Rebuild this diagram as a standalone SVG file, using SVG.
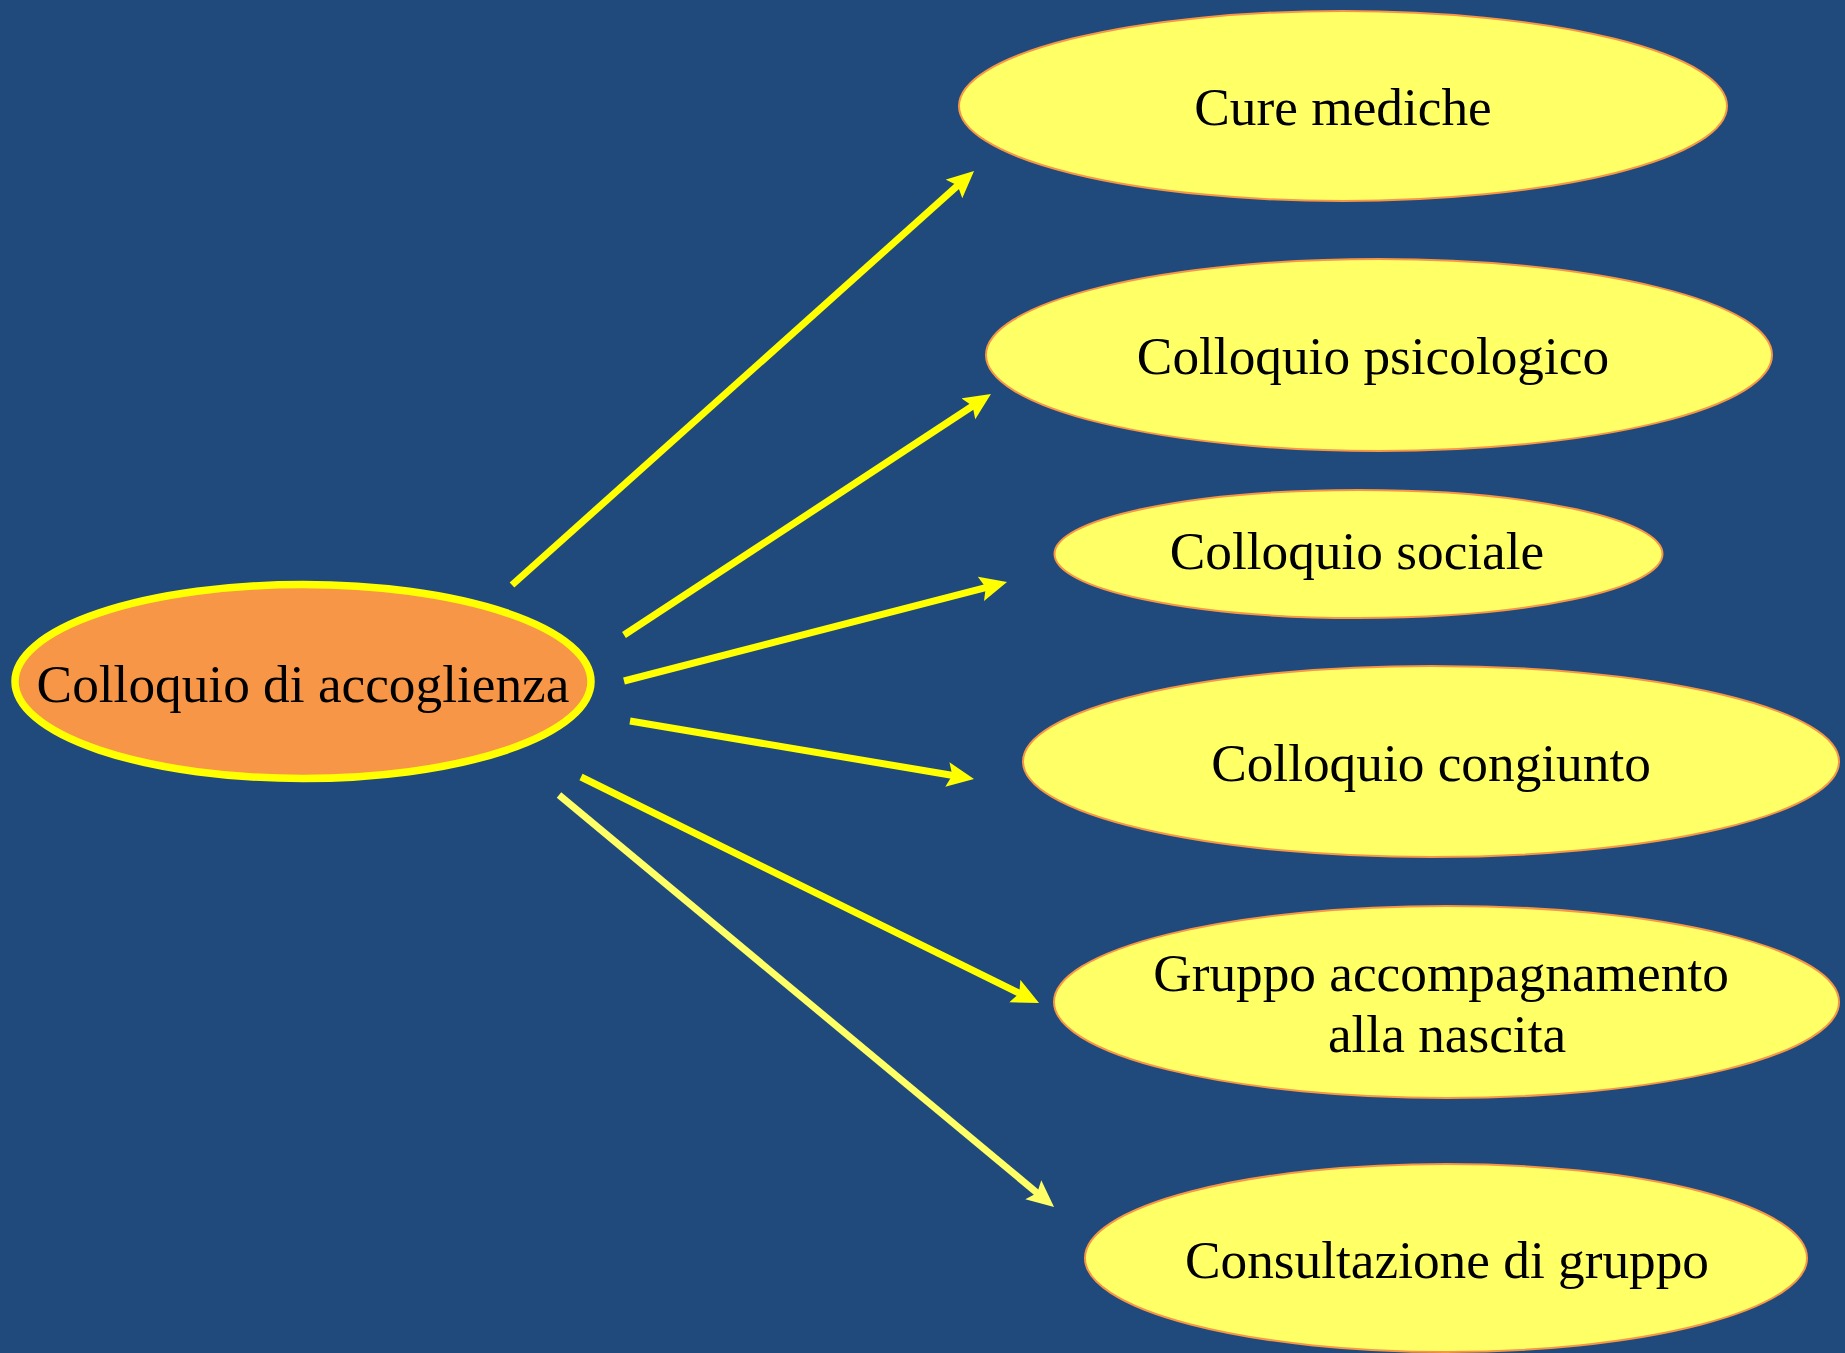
<svg xmlns="http://www.w3.org/2000/svg" width="1845" height="1353" viewBox="0 0 1845 1353">
<style>
.bg{fill:#204A7C}
.node{fill:#FFFF66;stroke:#F79646;stroke-width:2}
.main{fill:#F79646;stroke:#FFFF00;stroke-width:7.5}
.lbl{font-family:"Liberation Serif","Times New Roman",serif;font-size:53.3px;fill:#000;text-anchor:middle}
.c{stroke:#FFFF00;stroke-width:7;fill:none;marker-end:url(#ah)}
.c2{stroke:#FFFF66;stroke-width:7;fill:none;marker-end:url(#ah2)}
</style>
<defs>
<marker id="ah" markerUnits="userSpaceOnUse" markerWidth="32" markerHeight="28" refX="6" refY="12.5" orient="auto"><path d="M0,0 L27,12.5 L0,25 L5,12.5 z" fill="#FFFF00"/></marker>
<marker id="ah2" markerUnits="userSpaceOnUse" markerWidth="32" markerHeight="28" refX="6" refY="12.5" orient="auto"><path d="M0,0 L27,12.5 L0,25 L5,12.5 z" fill="#FFFF66"/></marker>
</defs>
<rect class="bg" x="0" y="0" width="1845" height="1353"/>
<g id="connectors">
<line class="c" x1="512" y1="585" x2="958.4" y2="184.9"/>
<line class="c" x1="624" y1="635" x2="973.4" y2="405.5"/>
<line class="c" x1="624" y1="681" x2="986.7" y2="587.3"/>
<line class="c" x1="630" y1="721" x2="953.3" y2="775.5"/>
<line class="c" x1="581" y1="777" x2="1020.2" y2="993.7"/>
<line class="c2" x1="559" y1="795" x2="1037.9" y2="1193.6"/>
</g>
<g id="accoglienza">
<ellipse class="main" cx="303" cy="681.5" rx="288" ry="97"/>
<text class="lbl" x="303" y="702">Colloquio di accoglienza</text>
</g>
<g id="cure">
<ellipse class="node" cx="1343" cy="106" rx="384" ry="95"/>
<text class="lbl" x="1343" y="125">Cure mediche</text>
</g>
<g id="psicologico">
<ellipse class="node" cx="1379" cy="355" rx="393" ry="96"/>
<text class="lbl" x="1373" y="374">Colloquio psicologico</text>
</g>
<g id="sociale">
<ellipse class="node" cx="1358.5" cy="554" rx="304" ry="64"/>
<text class="lbl" x="1357" y="569">Colloquio sociale</text>
</g>
<g id="congiunto">
<ellipse class="node" cx="1431" cy="761.5" rx="408" ry="95.5"/>
<text class="lbl" x="1431" y="781">Colloquio congiunto</text>
</g>
<g id="gruppo">
<ellipse class="node" cx="1446.5" cy="1002" rx="392.5" ry="96"/>
<text class="lbl" x="1441" y="991">Gruppo accompagnamento</text>
<text class="lbl" x="1447" y="1052">alla nascita</text>
</g>
<g id="consultazione">
<ellipse class="node" cx="1446" cy="1258" rx="361" ry="94"/>
<text class="lbl" x="1447" y="1278">Consultazione di gruppo</text>
</g>
</svg>
